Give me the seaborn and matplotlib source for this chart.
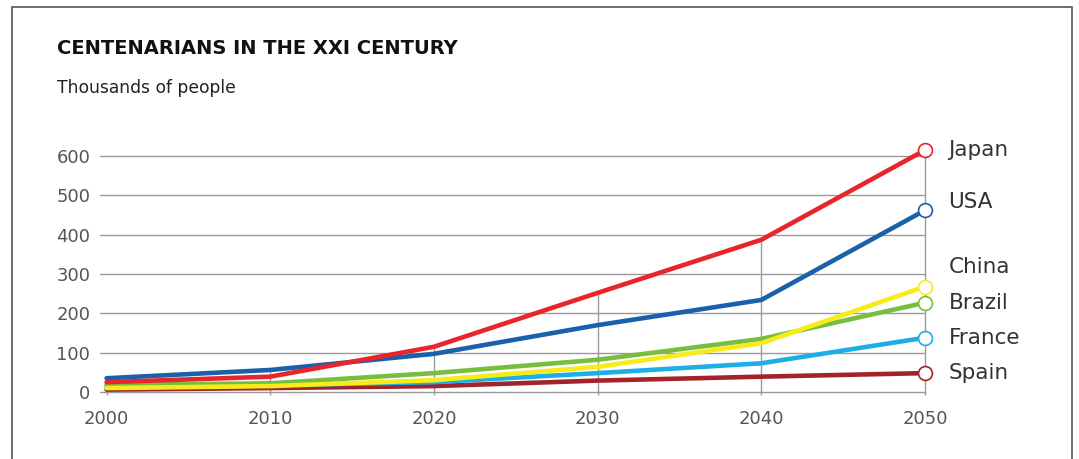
import matplotlib
matplotlib.use("Agg")
import matplotlib.pyplot as plt
import seaborn as sns
import pandas as pd
from matplotlib.patches import Rectangle

years = [2000, 2010, 2020, 2030, 2040, 2050]
countries = ["Japan", "USA", "China", "Brazil", "France", "Spain"]
japan = [25, 39, 115, 252, 387, 615]
usa = [35, 56, 97, 170, 234, 462]
china = [10, 15, 30, 64, 124, 268]
brazil = [18, 22, 48, 82, 135, 227]
france = [12, 17, 25, 48, 73, 138]
spain = [6, 10, 15, 29, 39, 48]
yticks = [0, 100, 200, 300, 400, 500, 600]

colors = {"Japan": "#E8252B", "USA": "#1A60AA", "China": "#F7EC1A",
          "Brazil": "#78BE3E", "France": "#1DAEE6", "Spain": "#A3232B"}
label_dy = {"Japan": 0, "USA": 6, "China": 14, "Brazil": 0, "France": 0, "Spain": 0}

series = dict(zip(countries, [japan, usa, china, brazil, france, spain]))
df = pd.DataFrame([(c, y, v) for c in countries for y, v in zip(years, series[c])],
                  columns=["country", "year", "value"])

sns.set_theme(style="white")
plt.rcParams["font.family"] = ["DejaVu Sans"]

fig = plt.figure(figsize=(10.79, 4.59), dpi=100)
W, H = 1079, 459
ax = fig.add_axes([100 / W, (H - 392) / H, (925 - 100) / W, (392 - 156) / H])

# figure frame
fig.patches.append(Rectangle((12 / W, -0.1), (1072 - 12) / W, (H - 7) / H + 0.1,
                             transform=fig.transFigure, fill=False,
                             edgecolor="#555555", linewidth=1.2))

# horizontal grid
for t in yticks:
    ax.axhline(t, color="#9a9a9a", linewidth=1.0, zorder=1, clip_on=False)
# vertical drop lines
maxvals = df.groupby("year")["value"].max()
ax.vlines(maxvals.index, -8, maxvals.values, color="#9a9a9a", linewidth=1.0,
          zorder=1, clip_on=False)

draw_order = ["Spain", "France", "Brazil", "China", "USA", "Japan"]
for c in draw_order:
    sub = df[df.country == c]
    sns.lineplot(data=sub, x="year", y="value", color=colors[c], linewidth=3.3,
                 ax=ax, zorder=3, clip_on=False, legend=False)
last = df[df.year == years[-1]]
for c in countries:
    row = last[last.country == c]
    ax.plot(row.year, row.value, marker="o", markersize=10, markerfacecolor="white",
            markeredgecolor=colors[c], markeredgewidth=1.2, linestyle="none",
            zorder=5, clip_on=False)
    ax.annotate(c, (row.year.iloc[0], row.value.iloc[0]), xytext=(17, label_dy[c]),
                textcoords="offset points", ha="left", va="center",
                fontsize=15.5, color="#333333", annotation_clip=False)

ax.set_xlim(1999.6, 2050)
ax.set_ylim(0, 600)
ax.set_xticks(years)
ax.set_yticks(yticks)
ax.tick_params(axis="both", length=0, labelsize=13, colors="#555555")
ax.tick_params(axis="x", pad=13)
ax.tick_params(axis="y", pad=7)
ax.set_xlabel("")
ax.set_ylabel("")
for s in ax.spines.values():
    s.set_visible(False)

fig.text(57 / W, 1 - 48 / H, "CENTENARIANS IN THE XXI CENTURY", fontsize=14,
         fontweight="bold", color="#111111", ha="left", va="center")
fig.text(57 / W, 1 - 88 / H, "Thousands of people", fontsize=12.3,
         color="#222222", ha="left", va="center")

fig.savefig("out.png", dpi=100, facecolor="white")
